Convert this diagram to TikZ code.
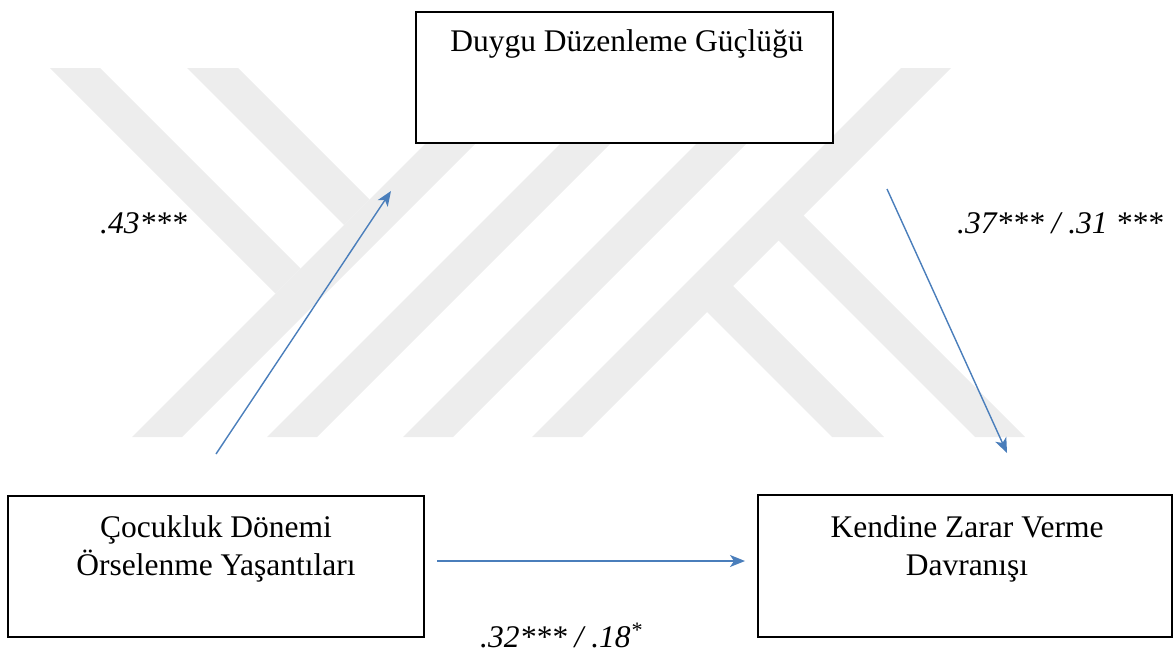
\documentclass[tikz,border=0pt]{standalone}
\usepackage{fontspec}
\setmainfont{Liberation Serif}
\usetikzlibrary{arrows.meta}
\definecolor{wm}{RGB}{237,237,237}
\definecolor{arr}{RGB}{74,126,187}
\begin{document}
\begin{tikzpicture}[x=1pt,y=-1pt,
  box/.style={draw=black, line width=1.6pt, fill=white, rectangle, inner sep=0pt},
  txt/.style={font=\fontsize{31.5}{38}\selectfont, anchor=base, inner sep=0pt},
  lab/.style={font=\fontsize{31.5}{38}\selectfont\itshape, anchor=base west, inner sep=0pt},
  conn/.style={draw=arr, line width=1.4pt, -{Stealth[length=15pt,width=12pt,inset=4pt]}},
  wmark/.style={fill=wm, draw=none}]
\useasboundingbox (0,0) rectangle (1174,653);
% watermark
\fill[wmark] (132,437) -- (182,437) -- (551,68) -- (501,68) -- cycle;
\fill[wmark] (50,68) -- (100,68) -- (300.5,268.5) -- (275.5,293.5) -- cycle;
\fill[wmark] (187,68) -- (238,68) -- (369.5,199.5) -- (344,225) -- cycle;
\fill[wmark] (267,437) -- (317,437) -- (686,68) -- (636,68) -- cycle;
\fill[wmark] (403,437) -- (453,437) -- (822,68) -- (772,68) -- cycle;
\fill[wmark] (532,437) -- (582,437) -- (951,68) -- (901,68) -- cycle;
\fill[wmark] (697.5,302.5) -- (723.5,276.5) -- (884,437) -- (832,437) -- cycle;
\fill[wmark] (769,231) -- (794,206) -- (1025,437) -- (975,437) -- cycle;
% boxes
\node[box, minimum width=417pt, minimum height=131pt] (ddg) at (624.5,77.5) {};
\node[box, minimum width=416pt, minimum height=141pt] (cdo) at (216,566.5) {};
\node[box, minimum width=414pt, minimum height=142pt] (kzv) at (965,566) {};
% texts
\node[txt] (ddgt) at (627,51) {Duygu Düzenleme Güçlüğü};
\node[txt] (cdo1) at (216,537) {Çocukluk Dönemi};
\node[txt] (cdo2) at (216,575) {Örselenme Yaşantıları};
\node[txt] (kzv1) at (967,537) {Kendine Zarar Verme};
\node[txt] (kzv2) at (967,575) {Davranışı};
% labels
\node[lab] (l43) at (100,233) {.43***};
\node[lab] (l37) at (957,233) {.37*** / .31 ***};
\node[lab] (l32) at (480,647) {.32*** / .18\textsuperscript{*}};
% connectors
\coordinate (a1s) at (216,454);
\coordinate (a1e) at (391,191);
\coordinate (a2s) at (887,189);
\coordinate (a2e) at (1007,453);
\coordinate (a3s) at (437,561);
\coordinate (a3e) at (745,561);
\draw[conn] (a1s) -- (a1e);
\draw[conn] (a2s) -- (a2e);
\draw[conn] (a3s) -- (a3e);
\end{tikzpicture}
\end{document}
